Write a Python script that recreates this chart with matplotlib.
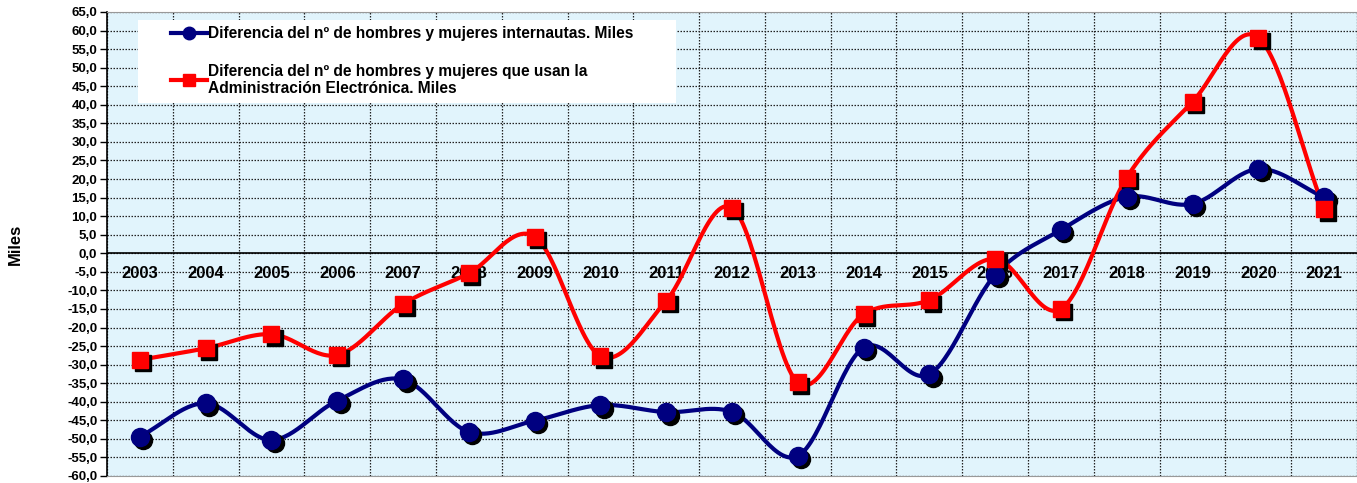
import numpy as np
import matplotlib
matplotlib.use("Agg")
import matplotlib.pyplot as plt
from matplotlib.lines import Line2D
from matplotlib.patches import Rectangle
from matplotlib import transforms

plt.rcParams['font.family'] = ['Liberation Sans', 'DejaVu Sans']

years = ['2003', '2004', '2005', '2006', '2007', '2008', '2009', '2010', '2011', '2012',
         '2013', '2014', '2015', '2016', '2017', '2018', '2019', '2020', '2021']

# diferencia hombres - mujeres internautas (miles)
internautas = [-49.4, -40.4, -50.3, -39.7, -34.0, -48.1, -45.1, -40.9, -42.8, -42.7,
               -54.6, -25.4, -32.6, -5.8, 6.3, 15.2, 13.3, 22.7, 15.1]
# diferencia hombres - mujeres que usan la administracion electronica (miles)
admin_electronica = [-28.7, -25.6, -21.8, -27.4, -13.7, -5.4, 4.5, -27.7, -12.8, 12.3,
                     -34.8, -16.4, -12.6, -1.5, -15.0, 20.4, 40.8, 58.1, 11.9]

label_int = 'Diferencia del nº de hombres y mujeres internautas. Miles'
label_adm = 'Diferencia del nº de hombres y mujeres que usan la\nAdministración Electrónica. Miles'


def smooth(x, y, n=30):
    # catmull-rom curve through the points (like excel smoothed lines)
    x = np.asarray(x, float)
    y = np.asarray(y, float)
    px = np.concatenate([[2 * x[0] - x[1]], x, [2 * x[-1] - x[-2]]])
    py = np.concatenate([[2 * y[0] - y[1]], y, [2 * y[-1] - y[-2]]])
    xs, ys = [], []
    t = np.linspace(0, 1, n, endpoint=False)
    for i in range(1, len(px) - 2):
        for p, out in ((px, xs), (py, ys)):
            p0, p1, p2, p3 = p[i - 1], p[i], p[i + 1], p[i + 2]
            out.extend(0.5 * ((2 * p1) + (-p0 + p2) * t
                              + (2 * p0 - 5 * p1 + 4 * p2 - p3) * t ** 2
                              + (-p0 + 3 * p1 - 3 * p2 + p3) * t ** 3))
    xs.append(x[-1])
    ys.append(y[-1])
    return np.array(xs), np.array(ys)


fig = plt.figure(figsize=(13.57, 4.83), dpi=100)
ax = fig.add_axes([107 / 1357, 7 / 483, 1250 / 1357, 464 / 483])
ax.set_facecolor('#e1f4fc')

x = np.arange(len(years))
ax.set_xlim(-0.5, len(years) - 0.5)
ax.set_ylim(-60, 65)

# grid
ax.set_yticks(np.arange(-60, 65.1, 5))
ax.set_yticklabels([f'{v:.1f}'.replace('.', ',') for v in np.arange(-60, 65.1, 5)],
                   fontsize=9.5, fontweight='bold')
ax.set_xticks(np.arange(-0.5, len(years), 1))
ax.set_xticklabels([])
ax.tick_params(axis='x', length=0)
ax.tick_params(axis='y', length=5, width=1, pad=2)
ax.grid(True, color='#222222', linestyle=(0, (1.2, 1.2)), linewidth=0.9)
ax.axhline(0, color='black', linewidth=1.2, zorder=2)

for s in ['top', 'bottom', 'right']:
    ax.spines[s].set_color('#999999')
ax.spines['left'].set_color('black')
ax.spines['left'].set_linewidth(1.2)

for i, yr in enumerate(years):
    ax.text(i, -5.5, yr, ha='center', va='center', fontsize=12, fontweight='bold', zorder=3)

shadow = transforms.offset_copy(ax.transData, fig=fig, x=2.5, y=-2.5, units='points')

for vals, col, mk, ms in ((internautas, '#000080', 'o', 13), (admin_electronica, '#ff0000', 's', 12)):
    sx, sy = smooth(x, vals)
    ax.plot(sx, sy, color=col, linewidth=3, zorder=4, solid_capstyle='round')
    ax.plot(x, vals, linestyle='none', marker=mk, markersize=ms, color='black',
            transform=shadow, zorder=5)
    ax.plot(x, vals, linestyle='none', marker=mk, markersize=ms, color=col,
            markeredgecolor=col, zorder=6)

ax.set_ylabel('Miles', fontsize=12, fontweight='bold', labelpad=0)
ax.yaxis.set_label_coords(-0.067, 0.5)

# white legend box
ax.add_patch(Rectangle((31 / 1250, 1 - 91 / 464), 538 / 1250, 83 / 464, transform=ax.transAxes,
                       facecolor='white', edgecolor='none', zorder=7))

handles = [Line2D([], [], color='#000080', linewidth=3, marker='o', markersize=9),
           Line2D([], [], color='#ff0000', linewidth=3, marker='s', markersize=9)]
leg = ax.legend(handles, [label_int, label_adm], loc='upper left',
                bbox_to_anchor=(64 / 1250, 1 - 14 / 464), frameon=False,
                prop={'size': 11.2, 'weight': 'bold'}, handlelength=2.3, handletextpad=0.1,
                labelspacing=1.45, borderpad=0, borderaxespad=0)
leg.set_zorder(8)

fig.savefig('out.png', dpi=100)
